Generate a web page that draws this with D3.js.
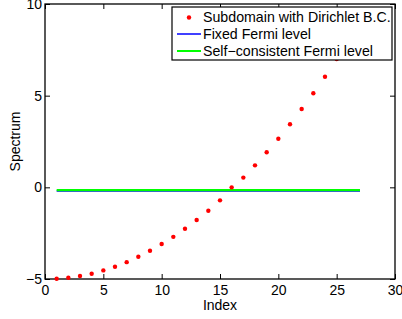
<!DOCTYPE html>
<html><head><meta charset="utf-8">
<script src="https://cdn.jsdelivr.net/npm/d3@7"></script>
<style>body{margin:0;background:#fff}svg{display:block}text{font-family:"Liberation Sans",Arial,sans-serif}</style>
</head><body>
<svg id="c" width="402" height="319"></svg>
<script>
const indices = [1,2,3,4,5,6,7,8,9,10,11,12,13,14,15,16,17,18,19,20,21,22,23,24,25];
const spectrum = [-4.99,-4.93,-4.84,-4.71,-4.53,-4.33,-4.08,-3.79,-3.46,-3.09,-2.70,-2.26,-1.78,-1.28,-0.71,0.0,0.53,1.20,1.91,2.65,3.44,4.27,5.13,6.03,7.0];
const fixedFermi = {x0:1, x1:27, y:-0.2};
const selfFermi = {x0:1, x1:27, y:-0.15};
const xTicks = [0,5,10,15,20,25,30];
const yTicks = [-5,0,5,10];
const legendLabels = ["Subdomain with Dirichlet B.C.","Fixed Fermi level","Self\u2212consistent Fermi level"];

const svg = d3.select("#c");
const L=45,R=395,T=4,B=279;
const x = d3.scaleLinear().domain([0,30]).range([L,R]);
const y = d3.scaleLinear().domain([-5,10]).range([B,T]);
const FS = 14;

const fmt = d => d<0 ? "\u2212"+Math.abs(d) : String(d);
const ax = svg.append("g").attr("transform",`translate(0,${B})`).call(d3.axisBottom(x).tickValues(xTicks).tickSizeInner(-5).tickSizeOuter(0).tickFormat(fmt));
const axT = svg.append("g").attr("transform",`translate(0,${T})`).call(d3.axisTop(x).tickValues(xTicks).tickSizeInner(-5).tickSizeOuter(0).tickFormat(""));
const ay = svg.append("g").attr("transform",`translate(${L},0)`).call(d3.axisLeft(y).tickValues(yTicks).tickSizeInner(-5).tickSizeOuter(0).tickPadding(4).tickFormat(fmt));
const ayR = svg.append("g").attr("transform",`translate(${R},0)`).call(d3.axisRight(y).tickValues(yTicks).tickSizeInner(-5).tickSizeOuter(0).tickFormat(""));
[ax,axT,ay,ayR].forEach(g=>{g.select(".domain").remove();g.selectAll("line").attr("stroke","#000");g.selectAll("text").attr("font-size",FS).attr("fill","#000").attr("font-family","Liberation Sans, Arial, sans-serif");});
ax.selectAll("text").attr("y",11).attr("dy","0.35em");
ay.selectAll("text").attr("x",-3);
svg.append("rect").attr("x",L).attr("y",T).attr("width",R-L).attr("height",B-T).attr("fill","none").attr("stroke","#000").attr("stroke-width",1.3);

svg.append("line").attr("x1",x(fixedFermi.x0)).attr("x2",x(fixedFermi.x1)).attr("y1",y(fixedFermi.y)).attr("y2",y(fixedFermi.y)).attr("stroke","#0000ff").attr("stroke-width",1.5);
svg.append("line").attr("x1",x(selfFermi.x0)).attr("x2",x(selfFermi.x1)).attr("y1",y(selfFermi.y)).attr("y2",y(selfFermi.y)).attr("stroke","#00ff00").attr("stroke-width",2.2);

svg.append("g").selectAll("circle").data(indices).join("circle")
  .attr("cx",(d)=>x(d)).attr("cy",(d,i)=>y(spectrum[i])).attr("r",2.2).attr("fill","#ff0000");

svg.append("text").attr("x",(L+R)/2).attr("y",305).attr("dy","0.35em").attr("text-anchor","middle").attr("font-size",FS).text("Index");
svg.append("text").attr("transform",`translate(20,${(T+B)/2}) rotate(-90)`).attr("text-anchor","middle").attr("font-size",FS).text("Spectrum");

const lg = svg.append("g");
lg.append("rect").attr("x",172).attr("y",7).attr("width",220).attr("height",53).attr("fill","#fff").attr("stroke","#000").attr("stroke-width",1.2);
const rows=[17.5,34,51];
lg.append("circle").attr("cx",189).attr("cy",rows[0]).attr("r",2.2).attr("fill","#ff0000");
lg.append("line").attr("x1",177).attr("x2",201).attr("y1",rows[1]).attr("y2",rows[1]).attr("stroke","#0000ff").attr("stroke-width",1.5);
lg.append("line").attr("x1",177).attr("x2",201).attr("y1",rows[2]).attr("y2",rows[2]).attr("stroke","#00ff00").attr("stroke-width",2);
legendLabels.forEach((t,i)=>lg.append("text").attr("x",203).attr("y",rows[i]).attr("dy","0.35em").attr("font-size",14.2).text(t));
</script>
</body></html>
